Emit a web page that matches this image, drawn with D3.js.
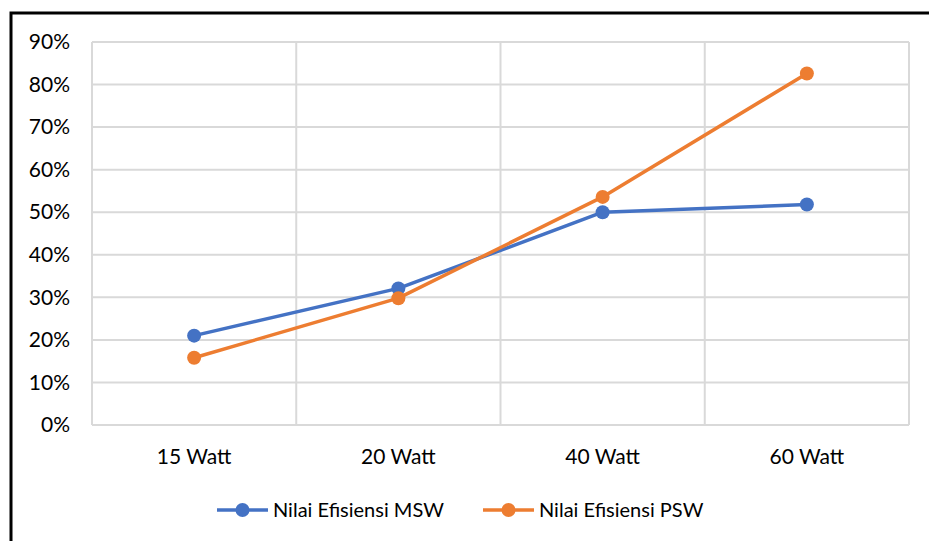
<!DOCTYPE html>
<html>
<head>
<meta charset="utf-8">
<script src="https://cdn.jsdelivr.net/npm/d3@7"></script>
<style>
  body { margin: 0; background: #fff; }
  svg { display: block; font-family: Lato, "Open Sans", sans-serif; }
</style>
</head>
<body>
<div id="chart"></div>
<script>
const categories = ['15 Watt', '20 Watt', '40 Watt', '60 Watt'];
const mswValues = [0.21, 0.321, 0.50, 0.518];
const pswValues = [0.158, 0.298, 0.536, 0.826];
const yTicks = [0, 0.1, 0.2, 0.3, 0.4, 0.5, 0.6, 0.7, 0.8, 0.9];
const seriesNames = ['Nilai Efisiensi MSW', 'Nilai Efisiensi PSW'];
const seriesColors = ['#4472C4', '#ED7D31'];

const width = 929;
const height = 541;
const plot = { left: 92, top: 42, right: 909, bottom: 425 };

let svg = d3.select('#chart')
    .append('svg')
    .attr('width', width)
    .attr('height', height);

// outer frame (runs off the right/bottom of the picture)
svg.append('rect')
    .attr('x', 11)
    .attr('y', 13)
    .attr('width', 960)
    .attr('height', 600)
    .attr('fill', 'none')
    .attr('stroke', '#000')
    .attr('stroke-width', 3);

const xScale = d3.scaleBand()
    .domain(categories)
    .range([plot.left, plot.right]);

const yScale = d3.scaleLinear()
    .domain([0, 0.9])
    .range([plot.bottom, plot.top]);

// horizontal grid
svg.append('g')
    .selectAll('line')
    .data(yTicks)
    .enter()
    .append('line')
    .attr('x1', plot.left)
    .attr('x2', plot.right)
    .attr('y1', d => yScale(d))
    .attr('y2', d => yScale(d))
    .attr('stroke', '#D9D9D9')
    .attr('stroke-width', 2);

// vertical grid at category boundaries
let bounds = categories.map(c => xScale(c)).concat([plot.right]);
svg.append('g')
    .selectAll('line')
    .data(bounds)
    .enter()
    .append('line')
    .attr('x1', d => d)
    .attr('x2', d => d)
    .attr('y1', plot.top)
    .attr('y2', plot.bottom)
    .attr('stroke', '#D9D9D9')
    .attr('stroke-width', 2);

// y axis labels
let yAxis = svg.append('g')
    .attr('transform', `translate(${plot.left - 22},0)`)
    .call(d3.axisLeft(yScale).tickValues(yTicks).tickFormat(d3.format('.0%')).tickSize(0).tickPadding(0));
yAxis.select('.domain').remove();
yAxis.selectAll('text')
    .attr('font-size', 21)
    .attr('font-family', 'Lato, sans-serif')
    .attr('fill', '#000');

// x axis labels
let xAxis = svg.append('g')
    .attr('transform', `translate(0,${plot.bottom})`)
    .call(d3.axisBottom(xScale).tickSize(0).tickPadding(24));
xAxis.select('.domain').remove();
xAxis.selectAll('text')
    .attr('font-size', 21)
    .attr('font-family', 'Lato, sans-serif')
    .attr('fill', '#000');

const line = d3.line()
    .x((d, i) => xScale(categories[i]) + xScale.bandwidth() / 2)
    .y(d => yScale(d));

[mswValues, pswValues].forEach((values, s) => {
    let g = svg.append('g');
    g.append('path')
        .datum(values)
        .attr('d', line)
        .attr('fill', 'none')
        .attr('stroke', seriesColors[s])
        .attr('stroke-width', 3.5)
        .attr('stroke-linejoin', 'round');
    g.selectAll('circle')
        .data(values)
        .enter()
        .append('circle')
        .attr('cx', (d, i) => xScale(categories[i]) + xScale.bandwidth() / 2)
        .attr('cy', d => yScale(d))
        .attr('r', 7)
        .attr('fill', seriesColors[s]);
});

// legend
const legendX = [217, 483];
let legend = svg.append('g');
seriesNames.forEach((name, s) => {
    let lg = legend.append('g').attr('transform', `translate(${legendX[s]},510)`);
    lg.append('line')
        .attr('x1', 0).attr('x2', 51)
        .attr('stroke', seriesColors[s])
        .attr('stroke-width', 3.5);
    lg.append('circle')
        .attr('cx', 25.5)
        .attr('r', 7)
        .attr('fill', seriesColors[s]);
    lg.append('text')
        .attr('x', 56)
        .attr('dy', '0.35em')
        .attr('font-size', 20)
        .text(name);
});
</script>
</body>
</html>
